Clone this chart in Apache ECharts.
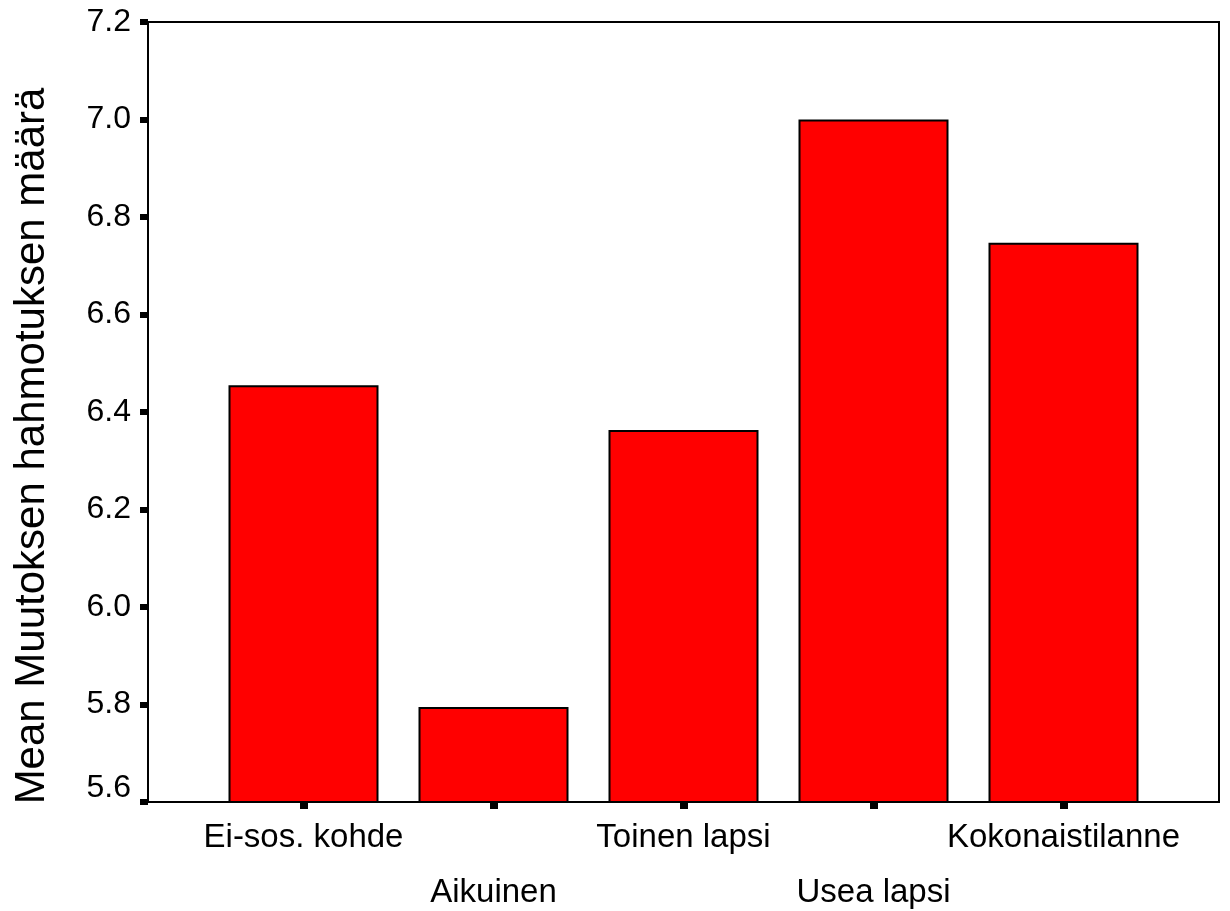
<!DOCTYPE html>
<html>
<head>
<meta charset="utf-8">
<script src="https://cdn.jsdelivr.net/npm/echarts@6/dist/echarts.min.js"></script>
<style>
html,body{margin:0;padding:0;background:#fff;}
#chart{width:1230px;height:911px;}
</style>
</head>
<body>
<div id="chart"></div>
<script>
const categories = ['Ei-sos. kohde', 'Aikuinen', 'Toinen lapsi', 'Usea lapsi', 'Kokonaistilanne'];
const meanValues = [6.455, 5.795, 6.363, 7.0, 6.747];
const yTicks = [5.6, 5.8, 6.0, 6.2, 6.4, 6.6, 6.8, 7.0, 7.2];
const yTitle = 'Mean Muutoksen hahmotuksen määrä';

const FONT = "'Liberation Sans', Arial, sans-serif";
const Y_MIN = yTicks[0];
const Y_MAX = yTicks[yTicks.length - 1];

const chart = echarts.init(document.getElementById('chart'), null, {renderer: 'canvas'});
chart.setOption({
  backgroundColor: '#ffffff',
  animation: false,
  grid: [
    {
      left: 148, right: 11, top: 22, bottom: 109,
      outerBoundsMode: 'none', containLabel: false,
      show: true, borderColor: '#000', borderWidth: 2, backgroundColor: 'transparent'
    },
    {
      left: 208.5, right: 71.5, top: 22, bottom: 109,
      outerBoundsMode: 'none', containLabel: false
    }
  ],
  xAxis: [
    {
      gridIndex: 0,
      type: 'value', min: 0, max: 1,
      splitLine: {show: false},
      axisLine: {show: true, onZero: false, lineStyle: {color: '#000', width: 2}},
      axisTick: {show: false},
      axisLabel: {show: false}
    },
    {
      gridIndex: 1,
      type: 'category',
      data: categories,
      axisLine: {show: false, onZero: false},
      splitLine: {show: false},
      axisTick: {show: true, alignWithLabel: true, length: 7, lineStyle: {color: '#000', width: 8}},
      axisLabel: {
        interval: 0,
        hideOverlap: false,
        margin: 8,
        color: '#000',
        fontFamily: FONT,
        fontSize: 33,
        lineHeight: 55,
        verticalAlign: 'top',
        formatter: function (name, i) {
          return i % 2 === 1 ? '\n' + name : name;
        }
      }
    }
  ],
  yAxis: [
    {
      gridIndex: 0,
      type: 'value',
      min: Y_MIN,
      max: Y_MAX,
      interval: 0.2,
      name: yTitle,
      nameLocation: 'middle',
      nameRotate: 90,
      nameGap: 95,
      nameTextStyle: {color: '#000', fontFamily: FONT, fontSize: 42, padding: [0, 68, 0, 0]},
      splitLine: {show: false},
      axisLine: {show: true, onZero: false, lineStyle: {color: '#000', width: 2}},
      axisTick: {show: true, length: 8, lineStyle: {color: '#000', width: 6}},
      axisLabel: {
        margin: 17,
        color: '#000',
        fontFamily: FONT,
        fontSize: 32,
        formatter: v => Math.abs(v - Y_MIN) < 1e-6 ? '{low|' + v.toFixed(1) + '}' : v.toFixed(1),
        rich: {
          low: {fontFamily: FONT, fontSize: 32, color: '#000', padding: [0, 0, 28, 0]}
        }
      }
    },
    {
      gridIndex: 1,
      type: 'value',
      min: Y_MIN,
      max: Y_MAX,
      interval: 0.2,
      show: false,
      splitLine: {show: false}
    }
  ],
  series: [{
    type: 'bar',
    xAxisIndex: 1,
    yAxisIndex: 1,
    barWidth: 150,
    data: meanValues,
    itemStyle: {color: '#ff0000', borderColor: '#000', borderWidth: 2}
  }]
});
</script>
</body>
</html>
